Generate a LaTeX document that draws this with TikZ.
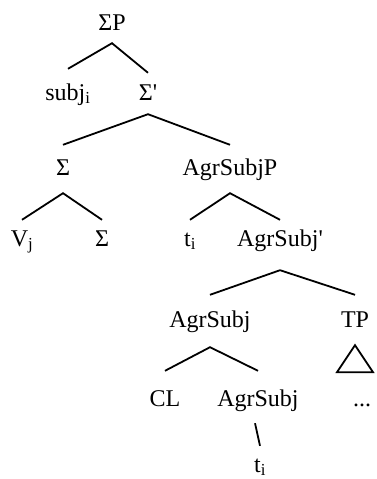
\documentclass[tikz,border=0pt]{standalone}
\usepackage{fontspec}
\setmainfont{Liberation Serif}
\begin{document}
\begin{tikzpicture}[x=1pt,y=-1pt,
  lab/.style={anchor=base, inner sep=0pt, font=\fontsize{24}{28}\selectfont, text height=16pt, text depth=5pt},
  br/.style={line width=1.8pt, line join=miter}]
\useasboundingbox (0,0) rectangle (376,479);
\node[lab] (sp) at (112,30) {ΣP};
\node[lab] (subj) at (68,100) {subj\textsubscript{i}};
\node[lab] (sbar) at (148,100) {Σ\textquotesingle};
\node[lab] (s1) at (63,175) {Σ};
\node[lab] (asp) at (230,175) {AgrSubjP};
\node[lab] (v) at (22,246) {V\textsubscript{j}};
\node[lab] (s2) at (102,246) {Σ};
\node[lab] (t1) at (190,246) {t\textsubscript{i}};
\node[lab] (asbar) at (280,246) {AgrSubj\textquotesingle};
\node[lab] (as1) at (210,327) {AgrSubj};
\node[lab] (tp) at (355,327) {TP};
\node[lab] (cl) at (165,406) {CL};
\node[lab] (as2) at (258,406) {AgrSubj};
\node[lab] (dots) at (362,406) {...};
\node[lab] (t2) at (260,472) {t\textsubscript{i}};
\draw[br] ([yshift=15pt]subj.north) -- ([yshift=-8pt]sp.south) -- ([yshift=11pt]sbar.north);
\draw[br] ([yshift=14pt]s1.north) -- ([yshift=-9pt]sbar.south) -- ([yshift=14pt]asp.north);
\draw[br] ([yshift=10pt]v.north) -- ([yshift=-13pt]s1.south) -- ([yshift=10pt]s2.north);
\draw[br] ([yshift=10pt]t1.north) -- ([yshift=-13pt]asp.south) -- ([yshift=10pt]asbar.north);
\draw[br] ([yshift=16pt]as1.north) -- ([yshift=-19pt]asbar.south) -- ([yshift=16pt]tp.north);
\draw[br] ([yshift=19pt]cl.north) -- ([yshift=-15pt]as1.south) -- ([yshift=19pt]as2.north);
\draw[br] ([xshift=-3pt,yshift=-12pt]as2.south) -- ([yshift=10pt]t2.north);
\coordinate (tri) at ([yshift=-13pt]tp.south);
\draw[br] (tri) -- ++(-18,27) -- ++(36,0) -- cycle;
\end{tikzpicture}
\end{document}
